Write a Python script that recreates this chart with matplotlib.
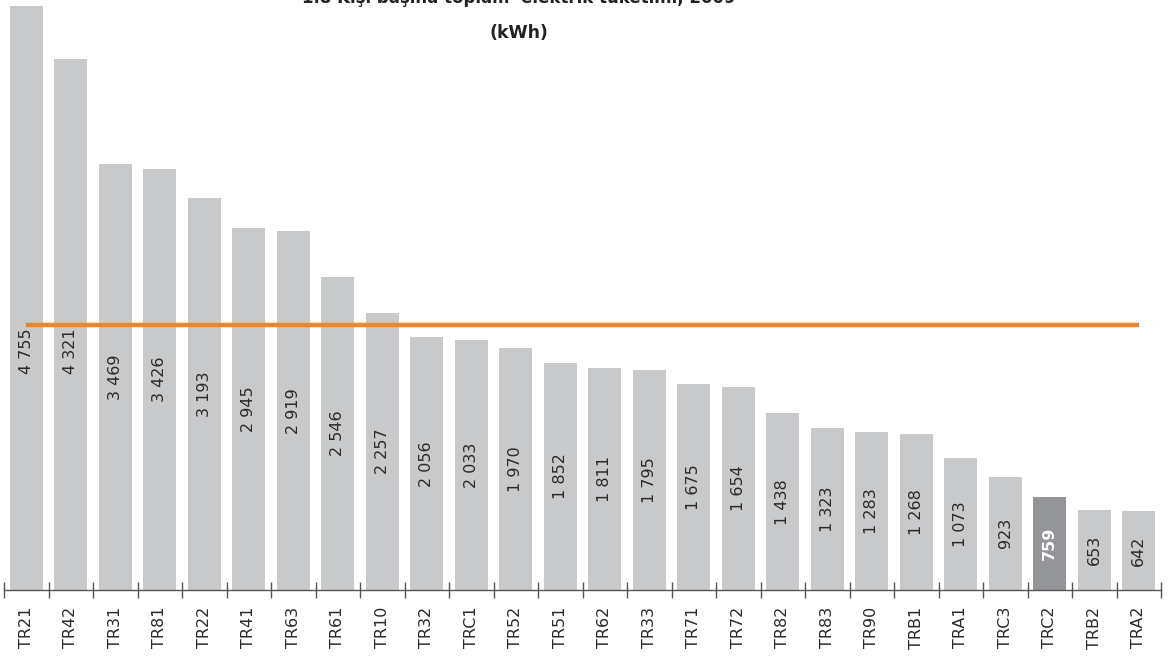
import matplotlib
matplotlib.use("Agg")
import matplotlib.pyplot as plt
import numpy as np
from matplotlib.ticker import FixedLocator, NullFormatter, FixedFormatter

regions = ["TR21", "TR42", "TR31", "TR81", "TR22", "TR41", "TR63", "TR61", "TR10",
           "TR32", "TRC1", "TR52", "TR51", "TR62", "TR33", "TR71", "TR72", "TR82",
           "TR83", "TR90", "TRB1", "TRA1", "TRC3", "TRC2", "TRB2", "TRA2"]
values = [4755, 4321, 3469, 3426, 3193, 2945, 2919, 2546, 2257,
          2056, 2033, 1970, 1852, 1811, 1795, 1675, 1654, 1438,
          1323, 1283, 1268, 1073, 923, 759, 653, 642]
turkey_avg = 2160
highlight = "TRC2"

title1 = "1.8 Kişi başına toplam  elektrik tüketimi, 2009"
title2 = "(kWh)"

plt.rcParams['font.family'] = ['DejaVu Sans']

W, H = 1170, 656
fig = plt.figure(figsize=(W / 100, H / 100), dpi=100)
left_px, right_px, bottom_px, top_px = 4, 1161, 590, 0
ax = fig.add_axes([left_px / W, 1 - bottom_px / H, (right_px - left_px) / W, (bottom_px - top_px) / H])

x = np.arange(len(regions))
colors = ["#939598" if r == highlight else "#c8c9cb" for r in regions]
ax.bar(x, values, width=0.74, color=colors, zorder=2)

ax.set_xlim(-0.5, len(regions) - 0.5)
ax.set_ylim(0, 4755 * 590 / 584)

# average line from first to last bar centre
ax.plot([x[0], x[-1]], [turkey_avg, turkey_avg], color="#e8872f", lw=3.2, zorder=3,
        solid_capstyle="butt")

def fmt(v):
    return f"{v:,}".replace(",", " ")

for xi, v, r in zip(x, values, regions):
    yc = min(v / 2, turkey_avg * 0.9)
    if r == highlight:
        ax.text(xi, yc, fmt(v), rotation=90, ha="center", va="center",
                fontsize=11.5, color="white", fontweight="bold", zorder=4)
    else:
        ax.text(xi, yc, fmt(v), rotation=90, ha="center", va="center",
                fontsize=11.5, color="#2a2a2a", zorder=4)

for s in ["top", "right", "left"]:
    ax.spines[s].set_visible(False)
ax.spines["bottom"].set_color("#555555")
ax.spines["bottom"].set_linewidth(1.0)
ax.set_yticks([])

ax.xaxis.set_major_locator(FixedLocator(np.arange(-0.5, len(regions), 1.0)))
ax.xaxis.set_major_formatter(NullFormatter())
ax.xaxis.set_minor_locator(FixedLocator(x))
ax.xaxis.set_minor_formatter(FixedFormatter(regions))
ax.tick_params(axis="x", which="major", direction="inout", length=12, width=1, color="#555555")
ax.tick_params(axis="x", which="minor", length=0, pad=12, labelsize=11.5,
               labelcolor="#2a2a2a", labelrotation=90)

fig.text(519 / W, 1 - 3 / H, title1, ha="center", va="baseline", fontsize=12,
         fontweight="bold", color="#222222")
fig.text(519 / W, 1 - 38 / H, title2, ha="center", va="baseline", fontsize=12.5,
         fontweight="bold", color="#222222")

fig.savefig("out.png", dpi=100)
